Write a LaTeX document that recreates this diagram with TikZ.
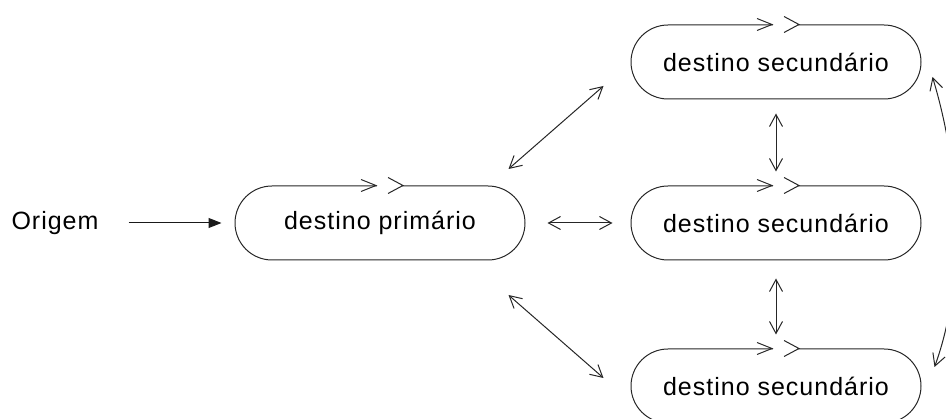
\documentclass[tikz,border=0pt]{standalone}
\usepackage{fontspec}
\setmainfont{Liberation Sans}[LetterSpace=4]
\usetikzlibrary{arrows.meta,shapes.misc}
\begin{document}
\begin{tikzpicture}[x=1pt,y=-1pt,
  statebox/.style={rounded rectangle, draw=black!85, line width=1pt,
    minimum width=290pt, minimum height=74pt, inner sep=0pt,
    font=\fontsize{25}{29}\selectfont},
  lbl/.style={inner sep=0pt, font=\fontsize{25}{29}\selectfont},
  dbl/.style={{Straight Barb[length=12pt,width=13pt]}-{Straight Barb[length=12pt,width=13pt]},
    line width=1pt, draw=black!85},
  one/.style={-{Triangle[length=13pt,width=10pt]}, line width=1pt, draw=black!90},
  cyc/.style={line width=1pt, draw=black!85}
]
\useasboundingbox (0,0) rectangle (946,419);
\clip (0,0) rectangle (946,419);

\node[lbl] (orig) at (55,223) {Origem};
\node[statebox] (prim) at (380,223) {destino primário};
\node[statebox] (top)  at (776,62)  {destino secundário};
\node[statebox] (mid)  at (776,223) {destino secundário};
\node[statebox] (bot)  at (776,386) {destino secundário};

% cycle marks on top edges
\foreach \n in {prim,top,mid,bot}{
  \fill[white] ([shift={(-3,-2)}]\n.north) rectangle ([shift={(22,2)}]\n.north);
  \draw[cyc] ([shift={(-19,-6)}]\n.north) -- ([shift={(-4,0)}]\n.north) -- ([shift={(-19,6)}]\n.north);
  \draw[cyc] ([shift={(8,-8)}]\n.north) -- ([shift={(23,0)}]\n.north) -- ([shift={(8,8)}]\n.north);
}

% connectors
\draw[one] ([shift={(30,0)}]orig.east) -- ([shift={(-13,0)}]prim.west);
\draw[dbl] ([shift={(22,0)}]prim.east) -- ([shift={(-18,0)}]mid.west);
\draw[dbl] ([shift={(-17,-54)}]prim.east) -- ([shift={(-27,24)}]top.west);
\draw[dbl] ([shift={(-17,72)}]prim.east) -- ([shift={(-27,-8)}]bot.west);
\draw[dbl] ([shift={(0,14)}]top.south) -- ([shift={(0,-14)}]mid.north);
\draw[dbl] ([shift={(0,18)}]mid.south) -- ([shift={(0,-14)}]bot.north);
\draw[dbl] ([shift={(11,15)}]top.east) .. controls (965,185) and (962,292) .. ([shift={(13,-19)}]bot.east);
\end{tikzpicture}
\end{document}
